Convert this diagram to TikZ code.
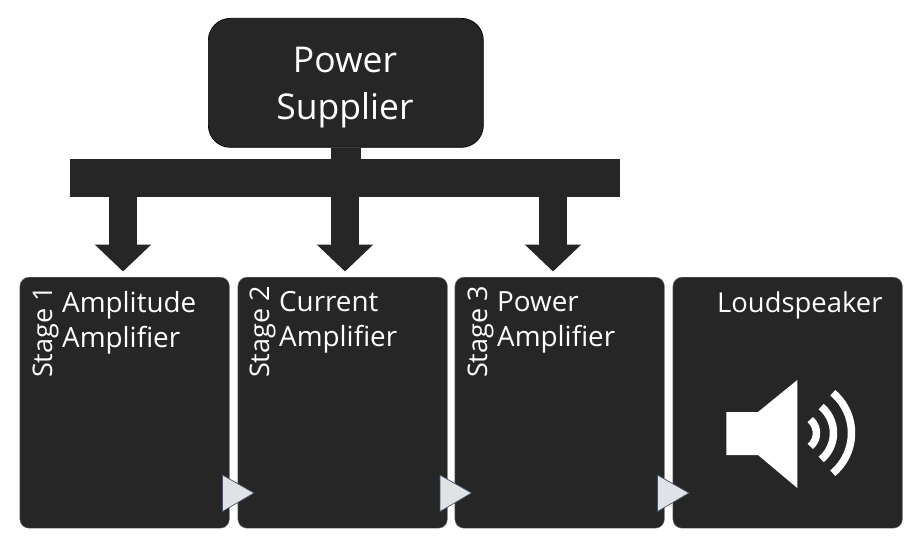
\documentclass[tikz,border=0pt]{standalone}
\usepackage{fontspec}
\setmainfont{Open Sans}
\usetikzlibrary{arrows.meta}
\definecolor{boxdark}{HTML}{262626}
\definecolor{tripale}{HTML}{E1E2E5}
\definecolor{triedge}{HTML}{44546A}
\tikzset{
  stagebox/.style={fill=boxdark,draw=boxdark!60!white,line width=0.4pt,rounded corners=9pt,inner sep=0pt,anchor=north west},
  bigtext/.style={text=white,font=\fontsize{35.5}{47.5}\selectfont,align=center,inner sep=0pt},
  labeltext/.style={text=white,font=\fontsize{27.8}{35}\selectfont,align=left,inner sep=0pt,anchor=north west},
  speakertext/.style={text=white,font=\fontsize{27.4}{35}\selectfont,inner sep=0pt,anchor=north west},
  stagetext/.style={text=white,font=\fontsize{27}{30}\selectfont,rotate=90,inner sep=0pt},
  feed/.style={draw=boxdark,line width=28pt,-{Triangle[length=27pt,width=55pt]}},
  chevron/.style={fill=tripale,draw=triedge,line width=0.7pt,line join=miter},
  wave/.style={draw=white,line width=7.5pt}
}
\begin{document}
\begin{tikzpicture}[x=1pt,y=-1pt]
\useasboundingbox (0,0) rectangle (923,548);
% power supplier
\node[fill=boxdark,draw=black,line width=0.7pt,rounded corners=22pt,minimum width=275pt,minimum height=129pt,inner sep=0pt,anchor=north west] (power) at (208,18) {};
\node[bigtext] (powertext) at (345,87.5) {Power\\Supplier};
% bus bar
\node[fill=boxdark,minimum width=550pt,minimum height=38pt,inner sep=0pt,anchor=north west] (bar) at (70,159) {};
\draw[draw=boxdark,line width=30pt] (power.south -| 346,0) -- (bar.north -| 346,0);
% stage boxes
\node[stagebox,minimum width=209.5pt,minimum height=251pt] (s1) at (19.7,277) {};
\node[stagebox,minimum width=209.5pt,minimum height=251pt] (s2) at (237.7,277) {};
\node[stagebox,minimum width=209.5pt,minimum height=251pt] (s3) at (454.7,277) {};
\node[stagebox,minimum width=229.5pt,minimum height=251pt] (s4) at (672.7,277) {};
% feeds
\coordinate (tip1) at (123,271.5);
\coordinate (tip2) at (345,271.5);
\coordinate (tip3) at (553,271.5);
\draw[feed] (bar.south -| tip1) -- (tip1);
\draw[feed] (bar.south -| tip2) -- (tip2);
\draw[feed] (bar.south -| tip3) -- (tip3);
% labels
\node[stagetext] (st1) at (45.7,332) {Stage 1};
\node[stagetext] (st2) at (262.7,332) {Stage 2};
\node[stagetext] (st3) at (480.7,332) {Stage 3};
\node[labeltext] (l1) at (62,291.5) {Amplitude\\Amplifier};
\node[labeltext] (l2) at (279,291.5) {Current\\Amplifier};
\node[labeltext] (l3) at (497,291.5) {Power\\Amplifier};
\node[speakertext] (l4) at (717,291.5) {Loudspeaker};
% chevrons
\draw[chevron] (222.5,475) -- (254,493) -- (222.5,511.5) -- cycle;
\draw[chevron] (440,475) -- (471.5,493) -- (440,511.5) -- cycle;
\draw[chevron] (657.5,475) -- (689,493) -- (657.5,511.5) -- cycle;
% speaker icon
\fill[white] (726.3,412) -- (758,412) -- (797.3,380) -- (797.3,488) -- (758,455) -- (726.3,455) -- cycle;
\draw[wave] (799,433) ++(-50:52.5) arc[start angle=-50,end angle=50,radius=52.5];
\draw[wave] (799,433) ++(-50:34.5) arc[start angle=-50,end angle=50,radius=34.5];
\draw[wave] (799,433) ++(-50:17.5) arc[start angle=-50,end angle=50,radius=17.5];
\end{tikzpicture}
\end{document}
